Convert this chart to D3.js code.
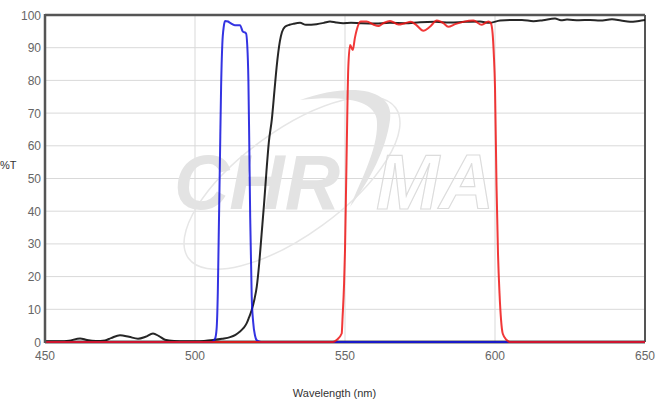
<!DOCTYPE html>
<html><head><meta charset="utf-8">
<script src="https://cdn.jsdelivr.net/npm/d3@7"></script>
<style>body{margin:0;background:#fff;}svg{display:block;font-family:"Liberation Sans",Arial,sans-serif;}</style>
</head><body>
<script>
const xTicks = [450, 500, 550, 600, 650];
const yTicks = [0, 10, 20, 30, 40, 50, 60, 70, 80, 90, 100];

const blackWl = [450,455,458,461.7,464,467,470,472,475,478,481,483.5,486,488,490,493,497,500,503,506,509,511.7,513.5,515,516.2,517.2,518,518.9,519.8,520.6,521.4,522.2,523,523.8,524.6,525.6,526.5,527.2,528.3,529,530,531.5,532.8,535,537,540.5,543,545,547,549.4,552,555,560,565,570,575,580,585,590,595,598,601.7,605,609,612.8,616,620,622,624,628,631.7,635,639,642,645,648,650];
const blackT  = [0.2,0.2,0.4,1.1,0.6,0.3,0.5,1.2,2.1,1.6,1.0,1.6,2.6,1.8,0.7,0.3,0.2,0.2,0.3,0.6,1.0,1.5,2.2,3.2,4.3,5.7,7.5,9.8,13,17,24,33,42,52,61,68,77,84,92,94.8,96.4,97,97.3,97.6,97.0,97.2,97.6,98.0,97.7,97.5,97.6,97.5,97.4,97.6,97.5,97.8,97.9,97.7,97.9,98.0,97.6,98.3,98.5,98.5,98.1,98.4,98.9,98.4,98.6,98.4,98.5,98.3,98.7,98.3,97.9,98.2,98.5];

const blueWl = [450,505,506,506.7,507.2,507.6,507.9,508.3,508.7,509.1,509.6,510,511,511.7,513.3,515,515.9,517,517.4,517.8,518.1,518.4,518.9,519.4,520,520.7,522,650];
const blueT  = [0,0,0.2,1,4,15,32,55,78,91,96.5,98.2,98,97.6,96.9,96.9,95,94.4,91,80,60,38,14,6,2,0.4,0,0];

const redWl = [450,546,547.2,548.9,549.2,549.7,550,550.5,551.1,551.7,552.6,553.3,553.9,555.2,557.2,559.4,561.1,562.8,565,567.8,570,571.9,573.7,576.1,578.3,580.6,582.8,584.4,586.7,589.4,592.8,595.6,597.8,598.6,599.2,599.6,600,600.5,601,601.5,602,602.6,603.9,605,650];
const redT  = [0,0,0.6,2.6,7.7,18,28,55,84,90.8,89.3,93,95.4,98,98,97.1,96.6,97.5,98.2,97.1,97.5,97.9,97,95.2,96.4,98.3,97.5,96.4,97.2,97.9,98.3,97,98,97.5,94.4,88,78,48,27,15,7,2.5,0.6,0,0];

const W = 668, H = 402;
const m = {left:45, right:23, top:15, bottom:60};
const svg = d3.select("body").append("svg").attr("width", W).attr("height", H);

const x = d3.scaleLinear().domain([450, 650]).range([m.left, W - m.right]);
const y = d3.scaleLinear().domain([0, 100]).range([H - m.bottom, m.top]);

// gridlines
svg.append("g").selectAll("line").data(yTicks.filter(d => d > 0 && d < 100)).join("line")
  .attr("x1", x(450)).attr("x2", x(650)).attr("y1", d => y(d)).attr("y2", d => y(d))
  .attr("stroke", "#d9d9d9").attr("stroke-width", 1);
svg.append("g").selectAll("line").data(xTicks.filter(d => d > 450 && d < 650)).join("line")
  .attr("y1", y(0)).attr("y2", y(100)).attr("x1", d => x(d)).attr("x2", d => x(d))
  .attr("stroke", "#d9d9d9").attr("stroke-width", 1);

// watermark
const wm = svg.append("g").attr("pointer-events", "none");
wm.append("ellipse").attr("cx", 292).attr("cy", 183).attr("rx", 128).attr("ry", 52)
  .attr("transform", "rotate(-36 292 183)")
  .attr("fill", "none").attr("stroke", "#e6e6e6").attr("stroke-width", 1.5);
wm.append("path")
  .attr("d", "M300,100 C350,82 395,88 390,120 C386,150 370,180 350,207 C362,178 377,150 377,125 C379,100 345,95 300,100 Z")
  .attr("fill", "#e3e3e3");
wm.append("text").attr("x", 174).attr("y", 209)
  .attr("font-size", 78).attr("font-weight", "bold").attr("font-style", "italic")
  .attr("fill", "#e3e3e3").attr("textLength", 166).attr("lengthAdjust", "spacingAndGlyphs").text("CHR");
wm.append("text").attr("x", 376).attr("y", 209)
  .attr("font-size", 78).attr("font-weight", "bold").attr("font-style", "italic")
  .attr("fill", "none").attr("stroke", "#dcdcdc").attr("stroke-width", 1.2)
  .attr("textLength", 118).attr("lengthAdjust", "spacingAndGlyphs").text("MA");

// axes frame
svg.append("line").attr("x1", x(450)).attr("x2", x(650)).attr("y1", y(100)).attr("y2", y(100)).attr("stroke", "#555").attr("stroke-width", 2.5);
svg.append("line").attr("x1", x(650)).attr("x2", x(650)).attr("y1", y(100)).attr("y2", y(0)).attr("stroke", "#555").attr("stroke-width", 2);
svg.append("line").attr("x1", x(450)).attr("x2", x(650)).attr("y1", y(0)).attr("y2", y(0)).attr("stroke", "#555").attr("stroke-width", 3);

// series
const line = d3.line().x(d => x(d[0])).y(d => y(d[1])).curve(d3.curveMonotoneX);
const series = [
  {wl: blackWl, t: blackT, color: "#000"},
  {wl: blueWl, t: blueT, color: "#1111dd"},
  {wl: redWl, t: redT, color: "#ee1515"}
];
series.forEach(s => {
  svg.append("path").datum(d3.zip(s.wl, s.t)).attr("d", line)
    .attr("fill", "none").attr("stroke", s.color).attr("stroke-width", 2)
    .attr("stroke-opacity", 0.85).attr("stroke-linejoin", "round");
});

// left axis line
svg.append("line").attr("x1", x(450)).attr("x2", x(450)).attr("y1", y(100) - 1).attr("y2", y(0) + 1).attr("stroke", "#555").attr("stroke-width", 2.5);

// tick labels
svg.append("g").selectAll("text").data(yTicks).join("text")
  .attr("x", 41).attr("y", d => y(d) + 4.5).attr("text-anchor", "end")
  .attr("font-size", 12).attr("fill", "#666").text(d => d);
svg.append("g").selectAll("text").data(xTicks).join("text")
  .attr("x", d => x(d)).attr("y", 360).attr("text-anchor", "middle")
  .attr("font-size", 12).attr("fill", "#666").text(d => d);

svg.append("text").attr("x", 0).attr("y", 169).attr("font-size", 11).attr("fill", "#333").text("%T");
svg.append("text").attr("x", 334.5).attr("y", 397).attr("text-anchor", "middle").attr("font-size", 11).attr("fill", "#333").text("Wavelength (nm)");
</script>
</body></html>
